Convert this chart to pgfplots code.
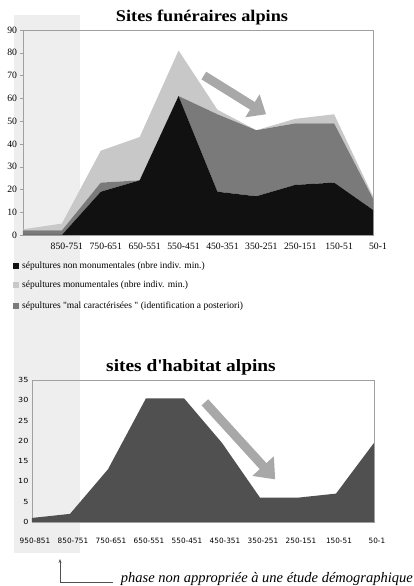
\documentclass[border=0pt]{standalone}
\usepackage{pgfplots}
\pgfplotsset{compat=1.18}
\usepackage{fontspec}
\setmainfont{Liberation Serif}
\newfontfamily\serifwide[FakeStretch=1.12]{Liberation Serif}
\newfontfamily\dejavu{DejaVu Sans}
\newfontfamily\dejavuw[FakeStretch=1.15]{DejaVu Sans}
\usetikzlibrary{arrows.meta}
\definecolor{bandgray}{HTML}{EEEEEE}
\definecolor{cblack}{HTML}{111111}
\definecolor{cdark}{HTML}{7A7A7A}
\definecolor{clight}{HTML}{C8C8C8}
\definecolor{chab}{HTML}{505050}
\definecolor{carrow}{HTML}{A8A8A8}
\definecolor{caxis}{HTML}{A0A0A0}
\begin{document}
\begin{tikzpicture}
\path[use as bounding box] (0pt,0pt) rectangle (414pt,586pt);
\fill[bandgray] (14pt,571pt) rectangle (80pt,33pt);
% title top
\node[font=\serifwide\bfseries\fontsize{16.3}{16.3}\selectfont] at (202pt,568pt) {Sites funéraires alpins};
\begin{axis}[at={(23pt,351pt)}, anchor=south west, scale only axis,
  width=350pt, height=205pt, xmin=0, xmax=9, ymin=0, ymax=90,
  ytick={0,10,...,90}, xtick={0,...,9},
  xticklabels={,850-751,750-651,650-551,550-451,450-351,350-251,250-151,150-51,50-1},
  /pgf/number format/assume math mode=true,
  ticklabel style={font=\fontsize{9.7}{9.7}\selectfont},
  xticklabel style={xshift=5pt, yshift=-2pt},
  axis line style={caxis}, xtick style={draw=none},
  ytick style={draw=caxis}, ytick pos=left, tick align=outside, major tick length=2.5pt,
  stack plots=y]
\addplot[draw=none, fill=cblack] coordinates {(0,0) (1,0) (2,19) (3,24) (4,61) (5,19) (6,17) (7,22) (8,23) (9,11)} \closedcycle;
\addplot[draw=none, fill=cdark] coordinates {(0,2) (1,2) (2,4) (3,0) (4,0) (5,34) (6,29) (7,27) (8,26) (9,5)} \closedcycle;
\addplot[draw=none, fill=clight] coordinates {(0,0.5) (1,3) (2,14) (3,19) (4,20) (5,2) (6,0) (7,2) (8,4) (9,1)} \closedcycle;
\draw[carrow, line width=9pt, -{Triangle[width=26pt,length=16pt]}] (axis cs:4.65,70) -- (axis cs:6.25,53);
\end{axis}
% legend
\fill[cblack] (13pt,317pt) rectangle (19pt,323pt);
\node[anchor=west, font=\fontsize{9.5}{9.5}\selectfont, inner sep=0pt] at (22pt,320pt) {sépultures non monumentales (nbre indiv. min.)};
\fill[clight] (13pt,298pt) rectangle (19pt,304pt);
\node[anchor=west, font=\fontsize{9.5}{9.5}\selectfont, inner sep=0pt] at (22pt,301pt) {sépultures monumentales (nbre indiv. min.)};
\fill[cdark] (13pt,277pt) rectangle (19pt,283pt);
\node[anchor=west, font=\fontsize{9.5}{9.5}\selectfont, inner sep=0pt] at (22pt,280pt) {sépultures \textquotedbl mal caractérisées \textquotedbl{} (identification a posteriori)};
% title bottom
\node[font=\serifwide\bfseries\fontsize{17.3}{17.3}\selectfont] at (191pt,219pt) {sites d\textquotesingle habitat alpins};
\begin{axis}[at={(32pt,64pt)}, anchor=south west, scale only axis,
  width=342pt, height=142pt, xmin=0, xmax=9, ymin=0, ymax=35,
  ytick={0,5,...,35}, xtick={0,...,9},
  xticklabels={950-851,850-751,750-651,650-551,550-451,450-351,350-251,250-151,150-51,50-1},
  /pgf/number format/assume math mode=true,
  ticklabel style={font=\dejavu\fontsize{7.3}{7.3}\selectfont},
  yticklabel style={font=\dejavuw\fontsize{7}{7}\selectfont},
  xticklabel style={yshift=-13pt, xshift=3pt},
  axis line style={caxis}, tick style={draw=none}]
\addplot[draw=none, fill=chab] coordinates {(0,1) (1,2) (2,13) (3,30.5) (4,30.5) (5,19.5) (6,6) (7,6) (8,7) (9,19.5)} \closedcycle;
\draw[carrow, line width=9pt, -{Triangle[width=28pt,length=18pt]}] (axis cs:4.55,29.5) -- (axis cs:6.4,10.5);
\end{axis}
% annotation
\draw[chab, line width=0.6pt, -{Stealth[length=4pt,width=3pt]}] (60pt,4pt) -- (60pt,27pt);
\draw[chab, line width=0.6pt] (60pt,4pt) -- (113pt,4pt);
\node[anchor=base east, font=\itshape\fontsize{14.5}{14.5}\selectfont, inner sep=0pt] at (413pt,4pt) {phase non appropriée à une étude démographique};
\end{tikzpicture}
\end{document}
